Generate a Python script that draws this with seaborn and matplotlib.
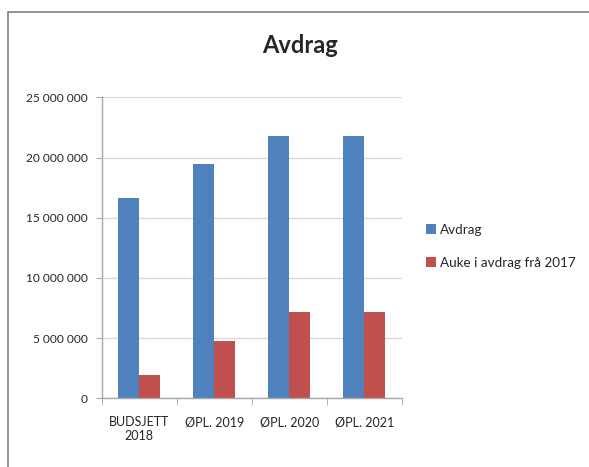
import pandas as pd
import matplotlib.pyplot as plt
import seaborn as sns
from matplotlib.patches import Rectangle
from matplotlib.ticker import FuncFormatter

# Data lest av figuren
kategorier = ['BUDSJETT\n2018', 'ØPL. 2019', 'ØPL. 2020', 'ØPL. 2021']
avdrag = [16600000, 19460000, 21750000, 21750000]
auke = [1940000, 4780000, 7140000, 7140000]
serienavn = ['Avdrag', 'Auke i avdrag frå 2017']

df = pd.DataFrame({
    'kategori': kategorier * 2,
    'verdi': avdrag + auke,
    'serie': [serienavn[0]] * 4 + [serienavn[1]] * 4,
})

sns.set_style('white')
plt.rcParams['font.family'] = ['Lato', 'DejaVu Sans']

fig = plt.figure(figsize=(5.89, 4.67), dpi=100)
ax = fig.add_axes([0.1727, 0.1471, 0.5093, 0.6445])

sns.barplot(data=df, x='kategori', y='verdi', hue='serie', order=kategorier,
            hue_order=serienavn, palette=['#4F81BD', '#C0504D'], saturation=1,
            width=0.56, linewidth=0, ax=ax)

ax.set_xlim(-0.5, 3.5)
ax.set_ylim(0, 25000000)
ax.set_yticks(range(0, 25000001, 5000000))
ax.yaxis.set_major_formatter(FuncFormatter(lambda v, p: f'{int(v):,}'.replace(',', ' ')))
ax.yaxis.grid(True, color='#D9D9D9', linewidth=1)
ax.set_axisbelow(True)
ax.set_xlabel('')
ax.set_ylabel('')

for s in ['top', 'right']:
    ax.spines[s].set_visible(False)
for s in ['left', 'bottom']:
    ax.spines[s].set_color('#A6A6A6')
    ax.spines[s].set_linewidth(1)

ax.tick_params(axis='y', length=4, color='#A6A6A6', labelsize=8.6, pad=6, left=True)
ax.tick_params(axis='x', which='major', length=0, labelsize=9, pad=13)
ax.set_xticks([-0.5, 0.5, 1.5, 2.5, 3.5], minor=True)
ax.tick_params(axis='x', which='minor', length=5, color='#A6A6A6', bottom=True)

ax.set_title('Avdrag', fontsize=17, fontweight='bold', x=0.661, y=1.0, pad=32)

handles, labels = ax.get_legend_handles_labels()
ax.legend(handles, labels, loc='center left', bbox_to_anchor=(0.703, 0.473),
          bbox_transform=fig.transFigure, frameon=False, fontsize=9.7,
          handlelength=0.7, handleheight=0.7, handletextpad=0.3, labelspacing=1.55)

# Ramme rundt diagrammet
fig.patches.append(Rectangle((7.5 / 589, -0.1), 1.2, 1 - 12 / 467 + 0.1,
                             transform=fig.transFigure, fill=False,
                             edgecolor='#808080', linewidth=1.2))

fig.savefig('out.png', dpi=100)
